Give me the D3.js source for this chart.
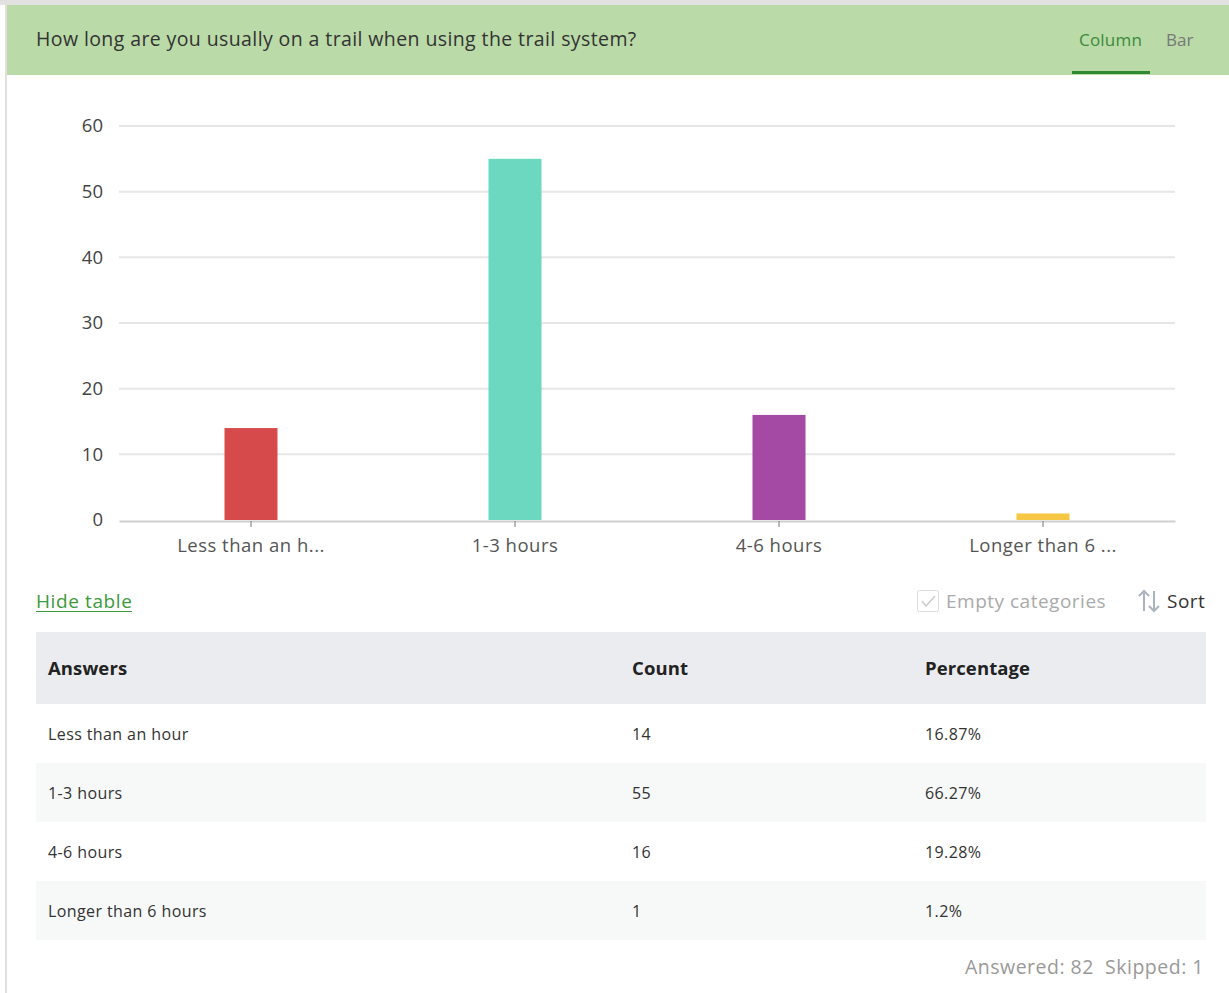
<!DOCTYPE html>
<html><head><meta charset="utf-8">
<script src="https://cdn.jsdelivr.net/npm/d3@7"></script>
<style>
html,body{margin:0;padding:0;background:#fff;}
svg{display:block;font-family:"Open Sans",Lato,sans-serif;}
</style></head><body>
<svg id="c" width="1229" height="993"></svg>
<script>
const title = "How long are you usually on a trail when using the trail system?";
const categories = ["Less than an hour","1-3 hours","4-6 hours","Longer than 6 hours"];
const axisLabels = ["Less than an h...","1-3 hours","4-6 hours","Longer than 6 ..."];
const counts = [14,55,16,1];
const percentages = ["16.87%","66.27%","19.28%","1.2%"];
const colors = ["#d64a4b","#6cd8bf","#a449a4","#f6c744"];
const yTicks = [0,10,20,30,40,50,60];
const answered = 82, skipped = 1;
const FONT = "'Open Sans',Lato,sans-serif";

const svg = d3.select("#c");
svg.append("rect").attr("x",0).attr("y",0).attr("width",1229).attr("height",5).attr("fill","#e2e2e2");
svg.append("rect").attr("x",5).attr("y",0).attr("width",2).attr("height",993).attr("fill","#e0e0e0");
svg.append("rect").attr("x",7).attr("y",5).attr("width",1222).attr("height",70).attr("fill","#badaa7");
svg.append("text").attr("x",36).attr("y",46).attr("font-size",19.5).attr("letter-spacing",0.4).attr("fill","#333").text(title);
svg.append("text").attr("x",1079).attr("y",46).attr("font-size",17).attr("letter-spacing",0.2).attr("fill","#3b8b3b").text("Column");
svg.append("rect").attr("x",1072).attr("y",71).attr("width",78).attr("height",3).attr("fill","#2f8a2f");
svg.append("text").attr("x",1166).attr("y",46).attr("font-size",17).attr("fill","#777").text("Bar");

const x = d3.scaleBand().domain(axisLabels).range([119,1175]);
const y = d3.scaleLinear().domain([0,60]).range([520,126]);
const g = svg.append("g");
g.append("g").selectAll("line").data(yTicks.filter(d=>d>0)).join("line")
  .attr("x1",119).attr("x2",1175).attr("y1",d=>y(d)).attr("y2",d=>y(d))
  .attr("stroke","#e6e6e6").attr("stroke-width",2);
const yAxis = g.append("g").attr("transform","translate(119,0)")
  .call(d3.axisLeft(y).tickValues(yTicks).tickSize(0).tickPadding(16));
yAxis.select(".domain").remove();
yAxis.selectAll("text").attr("font-size",18.5).attr("fill","#444").attr("font-family",FONT);

const bw = 53;
g.append("g").selectAll("rect").data(counts).join("rect")
  .attr("x",(d,i)=>x(axisLabels[i])+x.bandwidth()/2-bw/2)
  .attr("width",bw)
  .attr("y",d=>y(d)).attr("height",d=>y(0)-y(d))
  .attr("fill",(d,i)=>colors[i]);

const xAxis = g.append("g").attr("transform","translate(0,521)")
  .call(d3.axisBottom(x).tickSize(6).tickPadding(12).tickSizeOuter(0));
xAxis.select(".domain").attr("stroke","#d0d0d0").attr("stroke-width",2);
xAxis.selectAll(".tick line").attr("stroke","#777");
xAxis.selectAll("text").attr("font-size",18.5).attr("letter-spacing",0.5).attr("fill","#555").attr("font-family",FONT);

svg.append("text").attr("x",36).attr("y",608).attr("font-size",19).attr("letter-spacing",0.6).attr("fill","#3b9a3b").text("Hide table");
svg.append("line").attr("x1",36).attr("x2",132).attr("y1",611.5).attr("y2",611.5).attr("stroke","#3b9a3b").attr("stroke-width",1.2);
svg.append("rect").attr("x",917.5).attr("y",590.5).attr("width",21).attr("height",21).attr("rx",2).attr("fill","#fff").attr("stroke","#ddd");
svg.append("path").attr("d","M922 601 l4 5 l9 -10").attr("fill","none").attr("stroke","#ccc").attr("stroke-width",1.5);
svg.append("text").attr("x",946).attr("y",608).attr("font-size",19).attr("letter-spacing",0.5).attr("fill","#aaa").text("Empty categories");
svg.append("path").attr("d","M1144 611 V591 M1139 596 L1144 591 L1149 596").attr("fill","none").attr("stroke","#aab4bf").attr("stroke-width",2);
svg.append("path").attr("d","M1154 591 V611 M1149 606 L1154 611 L1159 606").attr("fill","none").attr("stroke","#aab4bf").attr("stroke-width",2);
svg.append("text").attr("x",1167).attr("y",608).attr("font-size",19).attr("letter-spacing",0.5).attr("fill","#333").text("Sort");

const colX = [48,632,925];
svg.append("rect").attr("x",36).attr("y",632).attr("width",1170).attr("height",72).attr("fill","#ebecf0");
["Answers","Count","Percentage"].forEach((h,i)=>{
  svg.append("text").attr("x",colX[i]).attr("y",675).attr("font-size",18.5).attr("letter-spacing",0.1).attr("font-weight","bold").attr("fill","#222").text(h);
});
const rowY = d3.scaleBand().domain(d3.range(categories.length)).range([704,940]);
const rows = svg.append("g").selectAll("g").data(categories).join("g")
  .attr("transform",(d,i)=>`translate(0,${rowY(i)})`);
rows.append("rect").attr("x",36).attr("width",1170).attr("height",rowY.bandwidth())
  .attr("fill",(d,i)=>i%2? "#f7f8f8":"#fff");
const cell = (sel, xx, fn) => sel.append("text").attr("x",xx).attr("y",36).attr("font-size",16).attr("letter-spacing",0.4).attr("fill","#333").text(fn);
cell(rows, colX[0], d=>d);
cell(rows, colX[1], (d,i)=>counts[i]);
cell(rows, colX[2], (d,i)=>percentages[i]);

svg.append("text").attr("x",1204).attr("y",974).attr("text-anchor","end").attr("font-size",19.5).attr("letter-spacing",0.5).attr("fill","#999")
  .attr("xml:space","preserve").text(`Answered: ${answered}  Skipped: ${skipped}`);
</script>
</body></html>
